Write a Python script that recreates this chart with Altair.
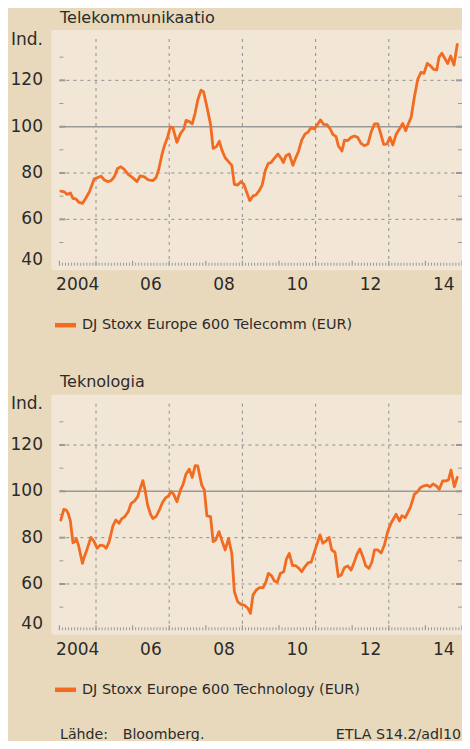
import altair as alt
import pandas as pd

# ---------------- data ----------------
tele_t = [2004.04, 2004.13, 2004.21, 2004.30, 2004.37, 2004.45, 2004.54, 2004.63, 2004.72, 2004.82,
          2004.95, 2005.05, 2005.14, 2005.23, 2005.32, 2005.41, 2005.50, 2005.59, 2005.68, 2005.77,
          2005.88, 2006.00, 2006.12, 2006.21, 2006.32, 2006.43, 2006.55, 2006.64, 2006.71, 2006.80,
          2006.87, 2006.96, 2007.03, 2007.10, 2007.21, 2007.31, 2007.40, 2007.46, 2007.55, 2007.63,
          2007.71, 2007.78, 2007.87, 2007.94, 2008.03, 2008.13, 2008.20, 2008.29, 2008.37, 2008.44,
          2008.53, 2008.62, 2008.71, 2008.78, 2008.87, 2008.96, 2009.04, 2009.13, 2009.20, 2009.29,
          2009.37, 2009.46, 2009.54, 2009.63, 2009.71, 2009.78, 2009.87, 2009.97, 2010.06, 2010.12,
          2010.19, 2010.28, 2010.38, 2010.45, 2010.53, 2010.62, 2010.71, 2010.80, 2010.88, 2010.97,
          2011.06, 2011.13, 2011.22, 2011.31, 2011.40, 2011.47, 2011.56, 2011.62, 2011.72, 2011.79,
          2011.88, 2011.97, 2012.06, 2012.15, 2012.24, 2012.33, 2012.43, 2012.52, 2012.61, 2012.70,
          2012.79, 2012.86, 2012.95, 2013.03, 2013.11, 2013.20, 2013.29, 2013.38, 2013.46, 2013.52,
          2013.61, 2013.70, 2013.79, 2013.88, 2013.96, 2014.05, 2014.14, 2014.23, 2014.31, 2014.37,
          2014.45, 2014.54, 2014.61, 2014.69, 2014.78, 2014.87]
tele_v = [72.2, 71.9, 70.8, 71.4, 69.1, 68.8, 67.3, 66.9, 69.1, 71.9,
          77.4, 78.1, 78.6, 77.0, 76.3, 76.7, 78.4, 82.0, 82.7, 81.6,
          79.4, 78.0, 76.3, 78.8, 78.3, 77.0, 76.7, 78.0, 81.3, 87.8,
          91.8, 95.7, 99.9, 99.6, 93.2, 97.1, 99.0, 102.7, 102.2, 101.2,
          106.0, 111.5, 115.8, 115.0, 108.6, 101.0, 90.6, 91.4, 93.7, 89.9,
          86.6, 84.9, 83.3, 75.1, 74.8, 76.3, 75.1, 71.2, 68.1, 70.1,
          70.5, 72.4, 74.8, 81.3, 84.2, 84.5, 86.3, 88.2, 86.3, 84.5,
          87.5, 88.2, 83.3, 86.3, 89.2, 94.2, 96.8, 97.8, 99.6, 99.0,
          101.2, 102.9, 101.0, 100.9, 99.0, 96.7, 95.7, 91.8, 89.5, 94.2,
          94.0, 95.4, 96.0, 95.4, 92.8, 91.8, 92.5, 97.8, 101.2, 101.2,
          96.4, 92.4, 92.5, 95.4, 92.1, 96.7, 99.0, 101.4, 98.3, 100.7,
          104.0, 112.9, 120.4, 123.5, 123.0, 127.3, 126.2, 124.7, 124.5, 129.9,
          131.7, 129.2, 127.3, 130.5, 126.6, 135.5]

tech_t = [2004.04, 2004.12, 2004.19, 2004.24, 2004.30, 2004.37, 2004.43, 2004.46, 2004.52, 2004.57,
          2004.63, 2004.68, 2004.75, 2004.86, 2004.95, 2005.03, 2005.12, 2005.21, 2005.28, 2005.36,
          2005.46, 2005.54, 2005.63, 2005.70, 2005.79, 2005.88, 2005.96, 2006.05, 2006.14, 2006.21,
          2006.28, 2006.34, 2006.41, 2006.49, 2006.55, 2006.64, 2006.73, 2006.82, 2006.91, 2006.98,
          2007.05, 2007.12, 2007.21, 2007.31, 2007.38, 2007.46, 2007.55, 2007.63, 2007.71, 2007.78,
          2007.83, 2007.89, 2007.96, 2008.03, 2008.13, 2008.20, 2008.27, 2008.36, 2008.45, 2008.53,
          2008.62, 2008.71, 2008.78, 2008.87, 2008.96, 2009.05, 2009.15, 2009.22, 2009.29, 2009.38,
          2009.47, 2009.56, 2009.63, 2009.71, 2009.80, 2009.87, 2009.95, 2010.04, 2010.13, 2010.20,
          2010.28, 2010.37, 2010.46, 2010.54, 2010.62, 2010.71, 2010.80, 2010.88, 2010.97, 2011.06,
          2011.12, 2011.20, 2011.29, 2011.37, 2011.44, 2011.53, 2011.62, 2011.70, 2011.79, 2011.88,
          2011.97, 2012.06, 2012.13, 2012.21, 2012.30, 2012.37, 2012.46, 2012.54, 2012.61, 2012.70,
          2012.79, 2012.88, 2012.97, 2013.06, 2013.20, 2013.29, 2013.36, 2013.45, 2013.52, 2013.59,
          2013.70, 2013.77, 2013.87, 2013.96, 2014.05, 2014.12, 2014.21, 2014.30, 2014.38, 2014.47,
          2014.56, 2014.63, 2014.70, 2014.79, 2014.87]
tech_v = [87.6, 92.2, 91.9, 90.5, 87.2, 77.8, 78.3, 79.7, 76.8, 73.2,
          68.9, 71.8, 74.7, 80.1, 78.3, 75.4, 76.8, 76.5, 75.4, 78.3,
          85.0, 87.6, 86.2, 88.1, 89.1, 91.2, 94.8, 95.8, 97.7, 101.3,
          104.6, 100.6, 94.1, 90.1, 88.3, 89.1, 91.9, 95.3, 97.3, 98.0,
          99.9, 98.8, 95.5, 100.6, 103.0, 107.5, 109.6, 106.0, 111.1, 111.0,
          107.1, 102.7, 100.6, 89.4, 89.1, 78.3, 79.0, 82.6, 78.3, 74.7,
          79.7, 73.2, 56.7, 52.4, 51.2, 50.9, 49.5, 47.3, 55.3, 57.4,
          58.4, 58.4, 60.3, 64.6, 63.5, 61.3, 60.7, 64.6, 65.3, 70.6,
          73.2, 67.9, 67.9, 66.8, 65.3, 67.5, 69.2, 69.4, 74.0, 78.3,
          81.2, 77.6, 78.6, 80.1, 74.7, 73.7, 63.2, 63.9, 67.1, 67.8,
          66.0, 69.6, 72.8, 75.1, 71.4, 67.8, 66.8, 69.6, 74.7, 74.7,
          73.4, 76.8, 82.6, 86.2, 90.1, 87.2, 89.5, 88.6, 90.9, 93.1,
          98.8, 99.6, 101.7, 102.4, 102.7, 101.9, 103.2, 102.3, 100.9, 104.5,
          104.5, 104.9, 109.2, 102.0, 106.0]

titles = ["Telekommunikaatio", "Teknologia"]
legend_labels = ["DJ Stoxx Europe 600 Telecomm (EUR)", "DJ Stoxx Europe 600 Technology (EUR)"]
x_labels = ["2004", "06", "08", "10", "12", "14"]
x_label_years = [2004.5, 2006.5, 2008.5, 2010.5, 2012.5, 2014.5]
y_labels = ["120", "100", "80", "60", "40"]
y_label_values = [120, 100, 80, 60, 42.6]
grid_years = [2005, 2007, 2009, 2011, 2013]
dashed_levels = [60, 80, 120]
solid_levels = [100]
minor_levels = [50, 70, 90, 110, 130]
major_levels = [60, 80, 100, 120]
source_left = "Lähde:"
source_mid = "Bloomberg."
source_right = "ETLA S14.2/adl10"

# ---------------- style / layout ----------------
W, H = 454, 733
FONT = "DejaVu Sans"
OUTER = "#E9D9BC"
PANEL = "#F2E7D7"
ORANGE = "#F26B21"
GRID = "#8E8E8E"
TEXT = "#2B2B2B"
X0, X1 = 51.4, 454.0
panels = [dict(y0=26.0, y1=257.7), dict(y0=390.7, y1=622.3)]

xscale = alt.Scale(domain=[2004, 2015], range=[X0, X1], nice=False, zero=False)
month_ticks = pd.DataFrame({"t": [2004 + m / 12 for m in range(133)]})
month_ticks["yr"] = [(m % 12 == 0) for m in range(133)]


def ysc(p):
    return alt.Scale(domain=[40, 140], range=[p["y1"], p["y0"]], nice=False, zero=False)


def X(field):
    return alt.X(field, type="quantitative", scale=xscale, axis=None)


def Y(field, p):
    return alt.Y(field, type="quantitative", scale=ysc(p), axis=None)


layers = []
series = [(tele_t, tele_v), (tech_t, tech_v)]
for i, p in enumerate(panels):
    y0, y1 = p["y0"], p["y1"]
    t, v = series[i]
    n = min(len(t), len(v))
    df = pd.DataFrame({"t": t[:n], "v": v[:n]})

    # panel background
    layers.append(alt.Chart(pd.DataFrame({"a": [0]})).mark_rect(color=PANEL, cornerRadius=2).encode(
        x=alt.value(X0 - 8), x2=alt.value(X1 + 8), y=alt.value(y0 - 4), y2=alt.value(y1 + 4.5)))
    # horizontal dashed grid
    layers.append(alt.Chart(pd.DataFrame({"v": dashed_levels})).mark_rule(
        color=GRID, strokeWidth=1, strokeDash=[3, 4]).encode(
        y=Y("v", p), x=alt.value(X0), x2=alt.value(X1)))
    # vertical dashed grid
    layers.append(alt.Chart(pd.DataFrame({"t": grid_years})).mark_rule(
        color=GRID, strokeWidth=1, strokeDash=[3, 4]).encode(
        x=X("t"), y=alt.value(y0 + 5), y2=alt.value(y1)))
    # 100 line
    layers.append(alt.Chart(pd.DataFrame({"v": solid_levels})).mark_rule(
        color="#999999", strokeWidth=1.5).encode(
        y=Y("v", p), x=alt.value(X0), x2=alt.value(X1)))
    # y ticks, both sides
    for lv, sw, ln in [(minor_levels, 1, 4), (major_levels, 2, 6)]:
        d = pd.DataFrame({"v": lv})
        layers.append(alt.Chart(d).mark_rule(color="#9A9A9A", strokeWidth=sw).encode(
            y=Y("v", p), x=alt.value(X0), x2=alt.value(X0 + ln)))
        layers.append(alt.Chart(d).mark_rule(color="#9A9A9A", strokeWidth=sw).encode(
            y=Y("v", p), x=alt.value(X1 - ln), x2=alt.value(X1)))
    # month ticks on the bottom
    layers.append(alt.Chart(month_ticks[~month_ticks["yr"]]).mark_rule(
        color="#9A9A9A", strokeWidth=1).encode(x=X("t"), y=alt.value(y1 - 3), y2=alt.value(y1)))
    layers.append(alt.Chart(month_ticks[month_ticks["yr"]]).mark_rule(
        color="#9A9A9A", strokeWidth=1.2).encode(x=X("t"), y=alt.value(y1 - 5), y2=alt.value(y1)))
    # the series
    layers.append(alt.Chart(df).mark_line(
        color=ORANGE, strokeWidth=2.8, strokeJoin="round", strokeCap="round").encode(
        x=X("t"), y=Y("v", p)))
    # y labels
    layers.append(alt.Chart(pd.DataFrame({"v": y_label_values, "lab": y_labels})).mark_text(
        font=FONT, fontSize=17, color=TEXT, align="right", baseline="middle").encode(
        y=Y("v", p), x=alt.value(35), text="lab:N"))
    layers.append(alt.Chart(pd.DataFrame({"lab": ["Ind."]})).mark_text(
        font=FONT, fontSize=17, color=TEXT, align="right", baseline="middle").encode(
        y=alt.value(y0 + 5.5), x=alt.value(35), text="lab:N"))
    # x labels
    layers.append(alt.Chart(pd.DataFrame({"t": x_label_years, "lab": x_labels})).mark_text(
        font=FONT, fontSize=17, color=TEXT, align="center", baseline="middle").encode(
        x=X("t"), y=alt.value(y1 + 19.5), text="lab:N"))
    # title
    layers.append(alt.Chart(pd.DataFrame({"lab": [titles[i]]})).mark_text(
        font=FONT, fontSize=16, color=TEXT, align="left", baseline="middle").encode(
        x=alt.value(52), y=alt.value(y0 - 16.5), text="lab:N"))
    # legend
    layers.append(alt.Chart(pd.DataFrame({"a": [0]})).mark_rule(
        color=ORANGE, strokeWidth=4.5).encode(
        x=alt.value(47), x2=alt.value(68), y=alt.value(y1 + 59.5)))
    layers.append(alt.Chart(pd.DataFrame({"lab": [legend_labels[i]]})).mark_text(
        font=FONT, fontSize=14.4, color=TEXT, align="left", baseline="middle").encode(
        x=alt.value(74), y=alt.value(y1 + 59.5), text="lab:N"))

# footer
for lab, xx, al in [(source_left, 52, "left"), (source_mid, 114.7, "left"), (source_right, 453, "right")]:
    layers.append(alt.Chart(pd.DataFrame({"lab": [lab]})).mark_text(
        font=FONT, fontSize=14.2, color=TEXT, align=al, baseline="middle").encode(
        x=alt.value(xx), y=alt.value(726.5), text="lab:N"))

chart = alt.layer(*layers).resolve_scale(y="independent").properties(
    width=W, height=H, padding=0, background=OUTER,
    autosize=alt.AutoSizeParams(type="none"),
).configure_view(stroke=None)

chart.save("out.html", embed_options={"renderer": "svg", "actions": False})
